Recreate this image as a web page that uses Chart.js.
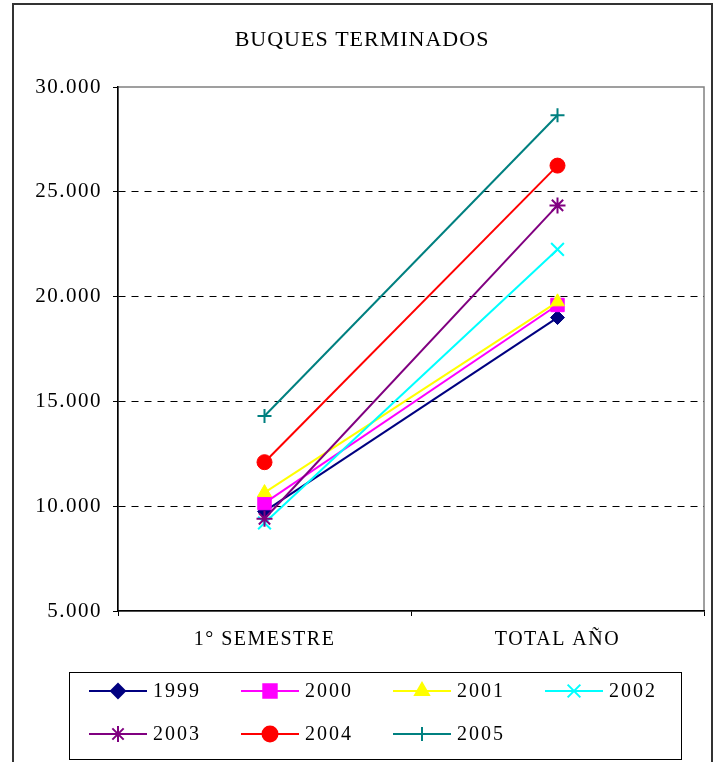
<!DOCTYPE html>
<html>
<head>
<meta charset="utf-8">
<script src="https://cdn.jsdelivr.net/npm/chart.js@4.4.0/dist/chart.umd.min.js"></script>
<style>
  body { margin: 0; background: #fff; }
  #wrap { width: 718px; height: 762px; }
</style>
</head>
<body>
<div id="wrap"><canvas id="buques" width="718" height="762"></canvas></div>
<script>
const titulo = "BUQUES TERMINADOS";
const categorias = ["1° SEMESTRE", "TOTAL AÑO"];
const anios = ["1999", "2000", "2001", "2002", "2003", "2004", "2005"];

const v1999 = [9750, 19000];
const v2000 = [10150, 19600];
const v2001 = [10650, 19750];
const v2002 = [9200, 22250];
const v2003 = [9400, 24350];
const v2004 = [12100, 26250];
const v2005 = [14300, 28650];

const yTicks = [5000, 10000, 15000, 20000, 25000, 30000];

const colores = ["#000080", "#FF00FF", "#FFFF00", "#00FFFF", "#800080", "#FF0000", "#008080"];
const marcadores = ["rectRot", "rect", "triangle", "crossRot", "star", "circle", "cross"];
const radios = [7, 9.5, 8, 9, 8, 7.5, 7];

const series = [v1999, v2000, v2001, v2002, v2003, v2004, v2005];
const fuente = "'Liberation Serif', 'Times New Roman', serif";

const miles = (v) => String(v).replace(/\B(?=(\d{3})+(?!\d))/g, ".");

// fondo, marcos, titulo y leyenda
const decorado = {
  id: "decorado",
  beforeDraw(chart) {
    const ctx = chart.ctx;
    const a = chart.chartArea;
    ctx.save();
    ctx.fillStyle = "#fff";
    ctx.fillRect(0, 0, chart.width, chart.height);
    ctx.strokeStyle = "#333";
    ctx.lineWidth = 2;
    ctx.strokeRect(13, 4, 699, 800);
    ctx.strokeStyle = "#808080";
    ctx.lineWidth = 1.5;
    ctx.strokeRect(a.left, a.top, a.right - a.left, a.bottom - a.top);
    ctx.restore();
    ctx.letterSpacing = "1.5px";
  },
  afterDraw(chart) {
    const ctx = chart.ctx;
    ctx.save();
    ctx.letterSpacing = "1px";
    ctx.fillStyle = "#000";
    ctx.font = "22px " + fuente;
    ctx.textAlign = "center";
    ctx.textBaseline = "middle";
    ctx.fillText(titulo, 362, 40);

    // leyenda
    ctx.strokeStyle = "#000";
    ctx.lineWidth = 1;
    ctx.strokeRect(69.5, 672.5, 612, 87);
    ctx.font = "20px " + fuente;
    ctx.letterSpacing = "2px";
    ctx.textAlign = "left";
    chart.data.datasets.forEach((ds, i) => {
      const x0 = 89 + (i % 4) * 152;
      const y = 691 + Math.floor(i / 4) * 43;
      ctx.strokeStyle = ds.borderColor;
      ctx.fillStyle = ds.borderColor;
      ctx.lineWidth = 2;
      ctx.beginPath();
      ctx.moveTo(x0, y);
      ctx.lineTo(x0 + 58, y);
      ctx.stroke();
      Chart.helpers.drawPoint(ctx, {
        pointStyle: ds.pointStyle,
        radius: ds.pointRadius,
        borderWidth: ds.pointBorderWidth,
        rotation: 0
      }, x0 + 29, y);
      ctx.fillStyle = "#000";
      ctx.fillText(ds.label, x0 + 64, y + 1);
    });
    ctx.restore();
  }
};

const ctx = document.getElementById("buques").getContext("2d");

new Chart(ctx, {
  type: "line",
  data: {
    labels: categorias,
    datasets: anios.map((a, i) => ({
      label: a,
      data: series[i],
      borderColor: colores[i],
      backgroundColor: colores[i],
      borderWidth: 2,
      pointStyle: marcadores[i],
      pointRadius: radios[i],
      pointHoverRadius: radios[i],
      pointBackgroundColor: colores[i],
      pointBorderColor: colores[i],
      pointBorderWidth: ["crossRot", "star", "cross"].includes(marcadores[i]) ? 2 : 1,
      tension: 0,
      fill: false,
      order: 6 - i
    }))
  },
  options: {
    responsive: false,
    animation: false,
    events: [],
    layout: { padding: { top: 87, right: 14, left: 0, bottom: 0 } },
    plugins: {
      legend: { display: false },
      title: { display: false },
      tooltip: { enabled: false }
    },
    scales: {
      x: {
        offset: true,
        afterFit: (s) => { s.height = 151; },
        grid: { offset: true, drawOnChartArea: false, tickLength: 5, color: "#000", tickColor: "#000" },
        border: { color: "#000", width: 1.5 },
        ticks: { color: "#000", padding: 12, font: { family: fuente, size: 20 } }
      },
      y: {
        min: 5000,
        max: 30000,
        afterFit: (s) => { s.width = 118; },
        afterBuildTicks: (s) => { s.ticks = yTicks.map((v) => ({ value: v })); },
        grid: {
          color: (c) => (c.tick && c.tick.value > 5000 && c.tick.value < 30000 ? "#000" : "rgba(0,0,0,0)"),
          tickColor: "#000",
          tickLength: 5,
          tickBorderDash: []
        },
        border: { color: "#000", width: 1.5, dash: [7, 6] },
        ticks: { color: "#000", padding: 11, callback: (v) => miles(v), font: { family: fuente, size: 21 } }
      }
    }
  },
  plugins: [decorado]
});
</script>
</body>
</html>
